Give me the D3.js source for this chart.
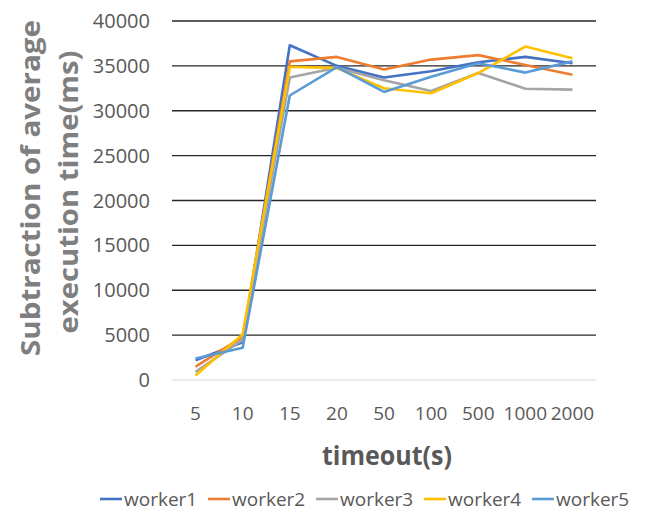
<!DOCTYPE html>
<head>
  <meta charset="utf-8">
  <script src="https://d3js.org/d3.v7.min.js"></script>
  <style>
    body { margin: 0; background: #fff; }
    text { font-family: "Open Sans", sans-serif; }
  </style>
</head>
<body>
<div id="chart"></div>
<script>
var categories = ["5", "10", "15", "20", "50", "100", "500", "1000", "2000"];
var seriesNames = ["worker1", "worker2", "worker3", "worker4", "worker5"];
var worker1 = [2200, 4200, 37300, 35000, 33700, 34400, 35400, 36000, 35300];
var worker2 = [1500, 4800, 35500, 36000, 34600, 35700, 36200, 35100, 34000];
var worker3 = [900, 4500, 33700, 34800, 33400, 32200, 34200, 32450, 32350];
var worker4 = [500, 5100, 34900, 34750, 32500, 31950, 34200, 37150, 35850];
var worker5 = [2400, 3600, 31700, 34850, 32100, 33800, 35300, 34250, 35500];
var yTicks = [0, 5000, 10000, 15000, 20000, 25000, 30000, 35000, 40000];
var colors = ["#4472C4", "#ED7D31", "#A5A5A5", "#FFC000", "#5B9BD5"];

var width = 647, height = 513;
var svg = d3.select("#chart").append("svg")
  .attr("width", width).attr("height", height);

var x = d3.scaleBand().domain(categories).range([172, 596]);
var y = d3.scaleLinear().domain([0, 40000]).range([380, 21]);

// gridlines
svg.append("g").selectAll("line")
  .data(yTicks).enter().append("line")
  .attr("x1", 172).attr("x2", 596)
  .attr("y1", d => y(d)).attr("y2", d => y(d))
  .attr("stroke", d => d === 0 ? "#d9d9d9" : "#262626")
  .attr("stroke-width", d => d === 0 ? 1 : 1.4);

// y tick labels
svg.append("g").selectAll("text")
  .data(yTicks).enter().append("text")
  .attr("x", 150).attr("y", d => y(d) + 7)
  .attr("text-anchor", "end")
  .attr("font-size", 20).attr("fill", "#595959")
  .text(d => d);

// x tick labels
svg.append("g").selectAll("text")
  .data(categories).enter().append("text")
  .attr("x", d => x(d) + x.bandwidth() / 2).attr("y", 420)
  .attr("text-anchor", "middle")
  .attr("font-size", 19).attr("fill", "#595959")
  .text(d => d);

// lines
var data = [worker1, worker2, worker3, worker4, worker5];
var line = d3.line()
  .x((d, i) => x(categories[i]) + x.bandwidth() / 2)
  .y(d => y(d));
svg.append("g").selectAll("path")
  .data(data).enter().append("path")
  .attr("d", d => line(d))
  .attr("fill", "none")
  .attr("stroke", (d, i) => colors[i])
  .attr("stroke-width", 2.6)
  .attr("stroke-linejoin", "round");

// axis titles
svg.append("text")
  .attr("transform", "translate(40,188) rotate(-90)")
  .attr("text-anchor", "middle")
  .attr("font-size", 27).attr("font-weight", "bold").attr("fill", "#7f7f7f")
  .attr("textLength", 336).attr("lengthAdjust", "spacingAndGlyphs")
  .text("Subtraction of average");
svg.append("text")
  .attr("transform", "translate(78,192) rotate(-90)")
  .attr("text-anchor", "middle")
  .attr("font-size", 27).attr("font-weight", "bold").attr("fill", "#7f7f7f")
  .attr("textLength", 283).attr("lengthAdjust", "spacingAndGlyphs")
  .text("execution time(ms)");
svg.append("text")
  .attr("x", 387).attr("y", 465)
  .attr("text-anchor", "middle")
  .attr("font-size", 27).attr("font-weight", "bold").attr("fill", "#595959")
  .attr("textLength", 130).attr("lengthAdjust", "spacingAndGlyphs")
  .text("timeout(s)");

// legend
var leg = svg.append("g").selectAll("g")
  .data(seriesNames).enter().append("g")
  .attr("transform", (d, i) => "translate(" + (100 + i * 108) + ",0)");
leg.append("line")
  .attr("x1", 0).attr("x2", 22).attr("y1", 499).attr("y2", 499)
  .attr("stroke", (d, i) => colors[i]).attr("stroke-width", 2.6);
leg.append("text")
  .attr("x", 24).attr("y", 506)
  .attr("font-size", 19).attr("fill", "#595959")
  .text(d => d);
</script>
</body>
</html>
